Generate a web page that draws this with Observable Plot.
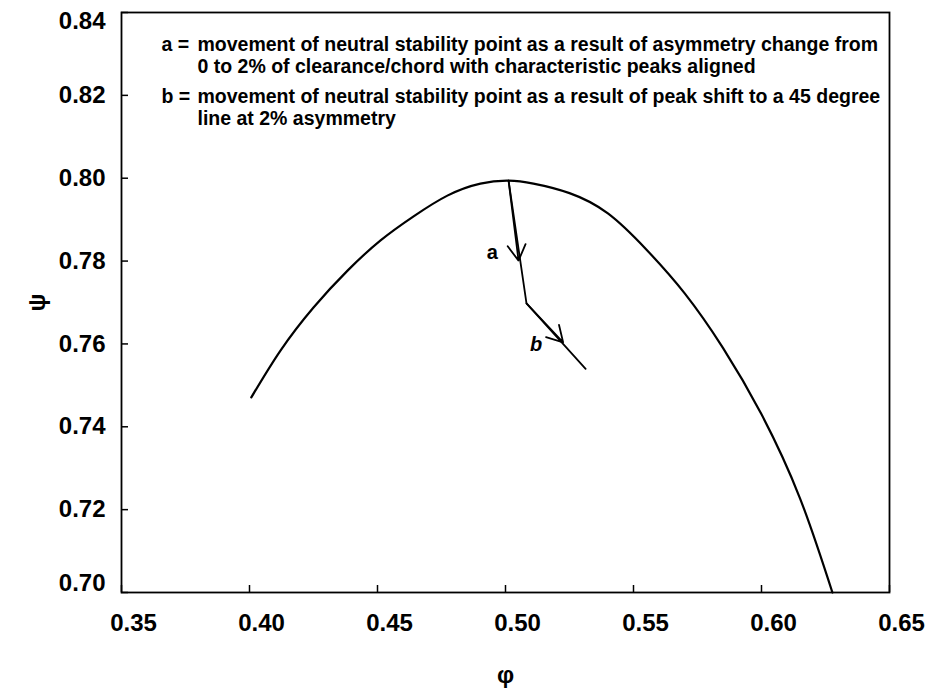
<!DOCTYPE html>
<html>
<head>
<meta charset="utf-8">
<script src="https://cdn.jsdelivr.net/npm/d3@7"></script>
<script src="https://cdn.jsdelivr.net/npm/@observablehq/plot@0.6"></script>
<style>
  html, body { margin: 0; padding: 0; background: white; }
  #chart svg { display: block; }
</style>
</head>
<body>
<div id="chart"></div>
<script>
// Neutral stability curve (phi, psi)
const curvePhi = [0.4007, 0.4121, 0.4250, 0.4383, 0.4512, 0.4641, 0.4773, 0.4902, 0.5012, 0.5109, 0.5250, 0.5400, 0.5550, 0.5700, 0.5850, 0.6000, 0.6150, 0.6277];
const curvePsi = [0.7471, 0.7584, 0.7688, 0.7777, 0.7850, 0.7908, 0.7958, 0.7987, 0.7994, 0.7987, 0.7964, 0.7915, 0.7828, 0.7722, 0.7590, 0.7430, 0.7228, 0.7000];

// Movement path of the neutral stability point
const pathPhi = [0.5012, 0.5082, 0.5313];
const pathPsi = [0.7994, 0.7698, 0.7540];

// Arrowheads (segment start -> arrow tip)
const arrowFromPhi = [0.5012, 0.5082];
const arrowFromPsi = [0.7994, 0.7698];
const arrowTipPhi = [0.5051, 0.5225];
const arrowTipPsi = [0.7801, 0.7604];

// Path labels
const labelNames = ["a", "b"];
const labelPhi = [0.4948, 0.5120];
const labelPsi = [0.7821, 0.7599];

// Ticks
const xTicks = [0.35, 0.40, 0.45, 0.50, 0.55, 0.60, 0.65];
const yTicks = [0.70, 0.72, 0.74, 0.76, 0.78, 0.80, 0.82, 0.84];
const yTickLabelsInner = [0.72, 0.74, 0.76, 0.78, 0.80, 0.82];
const yTickLabelTop = [0.84];
const yTickLabelBottom = [0.70];

// Legend text
const noteAPrefix = "a =";
const noteAText = "movement of neutral stability point as a result of asymmetry change from\n0 to 2% of clearance/chord with characteristic peaks aligned";
const noteBPrefix = "b =";
const noteBText = "movement of neutral stability point as a result of peak shift to a 45 degree\nline at 2% asymmetry";

const curve = curvePhi.map((p, i) => ({phi: p, psi: curvePsi[i]}));
const path = pathPhi.map((p, i) => ({phi: p, psi: pathPsi[i]}));
const arrows = arrowFromPhi.map((p, i) => ({x1: p, y1: arrowFromPsi[i], x2: arrowTipPhi[i], y2: arrowTipPsi[i]}));
const labels = labelNames.map((n, i) => ({name: n, phi: labelPhi[i], psi: labelPsi[i]}));

const font = "'Liberation Sans', Arial, Helvetica, sans-serif";
const noteStyle = {frameAnchor: "top-left", textAnchor: "start", lineAnchor: "top", lineHeight: 1.08,
  fontSize: 19.5, fontWeight: "bold", fill: "black"};
const yAxisStyle = {tickSize: 0, tickPadding: 16, tickFormat: d3.format(".2f"), fontSize: 24, fontWeight: "bold", label: null};

const chart = Plot.plot({
  width: 932,
  height: 697,
  marginLeft: 121,
  marginRight: 43,
  marginTop: 12,
  marginBottom: 105,
  style: {fontFamily: font, color: "black", background: "white"},
  x: {domain: [0.35, 0.65]},
  y: {domain: [0.70, 0.84]},
  marks: [
    Plot.axisX(xTicks, {tickSize: 0, tickPadding: 21, dx: 12, tickFormat: d3.format(".2f"), fontSize: 24, fontWeight: "bold",
      label: "φ", labelAnchor: "center", labelArrow: "none", labelOffset: 90}),
    Plot.axisY(yTickLabelsInner, {...yAxisStyle, label: "ψ", labelAnchor: "center", labelArrow: "none", labelOffset: 94}),
    Plot.axisY(yTickLabelTop, {...yAxisStyle, dy: 9}),
    Plot.axisY(yTickLabelBottom, {...yAxisStyle, dy: -9}),
    Plot.tickX(xTicks, {x: d => d, insetTop: 573, stroke: "black", strokeWidth: 1.5}),
    Plot.tickY(yTicks, {y: d => d, insetRight: 761, stroke: "black", strokeWidth: 1.5}),
    Plot.frame({stroke: "black", strokeWidth: 1.8}),
    Plot.line(curve, {x: "phi", y: "psi", curve: "natural", stroke: "black", strokeWidth: 2.2}),
    Plot.line(path, {x: "phi", y: "psi", stroke: "black", strokeWidth: 1.8}),
    Plot.arrow(arrows, {x1: "x1", y1: "y1", x2: "x2", y2: "y2", headLength: 15, headAngle: 60, stroke: "black", strokeWidth: 1.8}),
    Plot.text(labels.slice(0, 1), {x: "phi", y: "psi", text: "name", fontSize: 20, fontWeight: "bold", fill: "black"}),
    Plot.text(labels.slice(1), {x: "phi", y: "psi", text: "name", fontSize: 20, fontWeight: "bold", fontStyle: "italic", fill: "black"}),
    Plot.text([noteAPrefix], {...noteStyle, text: d => d, dx: 40, dy: 24}),
    Plot.text([noteAText], {...noteStyle, text: d => d, dx: 76, dy: 24}),
    Plot.text([noteBPrefix], {...noteStyle, text: d => d, dx: 40, dy: 76}),
    Plot.text([noteBText], {...noteStyle, text: d => d, dx: 76, dy: 76})
  ]
});

document.getElementById("chart").appendChild(chart);
</script>
</body>
</html>
